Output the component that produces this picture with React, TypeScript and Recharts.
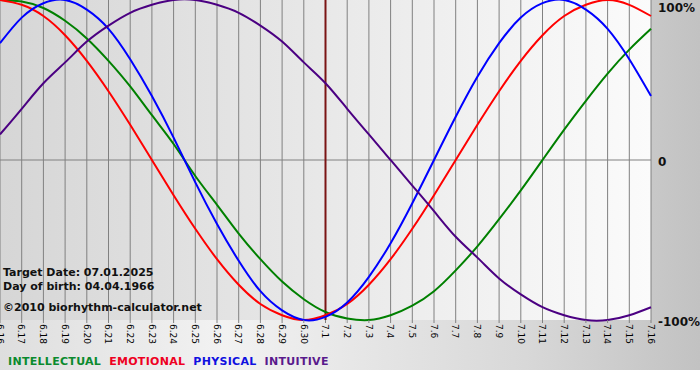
import { LineChart, Line, XAxis, YAxis, CartesianGrid, ReferenceLine } from 'recharts';

const days = [
  '6.16', '6.17', '6.18', '6.19', '6.20', '6.21', '6.22', '6.23', '6.24', '6.25', '6.26',
  '6.27', '6.28', '6.29', '6.30', '7.1', '7.2', '7.3', '7.4', '7.5', '7.6', '7.7', '7.8',
  '7.9', '7.10', '7.11', '7.12', '7.13', '7.14', '7.15', '7.16',
];

// values in percent per day
const intellectual = [100, 99, 95, 87, 76, 62, 46, 28, 10, -10, -28, -46, -62, -76, -87, -95, -99, -100, -97, -91, -82, -69, -54, -37, -19, 0, 19, 37, 54, 69, 82];
const emotional = [100, 97, 90, 78, 62, 43, 22, 0, -22, -43, -62, -78, -90, -97, -100, -97, -90, -78, -62, -43, -22, 0, 22, 43, 62, 78, 90, 97, 100, 97, 90];
const physical = [73, 89, 98, 100, 94, 82, 63, 40, 14, -14, -40, -63, -82, -94, -100, -98, -89, -73, -52, -27, 0, 27, 52, 73, 89, 98, 100, 94, 82, 63, 40];
const intuitive = [16, 32, 48, 61, 74, 84, 92, 97, 100, 100, 97, 92, 84, 74, 61, 48, 32, 16, 0, -16, -32, -48, -61, -74, -84, -92, -97, -100, -100, -97, -92];

const targetDay = '7.1';
const yTicks = [-100, 0, 100];

const series = [
  { key: 'intellectual', name: 'INTELLECTUAL', color: '#008000', label: '#0b8a2e', values: intellectual },
  { key: 'emotional', name: 'EMOTIONAL', color: '#ff0000', label: '#ee0022', values: emotional },
  { key: 'physical', name: 'PHYSICAL', color: '#0000ff', label: '#1010e0', values: physical },
  { key: 'intuitive', name: 'INTUITIVE', color: '#4b0082', label: '#5a1a8c', values: intuitive },
];

const data = days.map((d, i) => {
  const row: Record<string, number | string> = { idx: i, day: d };
  series.forEach((s) => { row[s.key] = s.values[i]; });
  return row;
});

const font = '"DejaVu Sans", Verdana, sans-serif';

const DayTick = ({ x, y, payload }: any) => (
  <text
    x={x}
    y={y}
    transform={`rotate(90, ${x}, ${y})`}
    textAnchor="start"
    dy="0.36em"
    fontSize={9}
    fontFamily={font}
    fill="#000"
  >
    {days[payload.value]}
  </text>
);

const PctTick = ({ x, y, payload }: any) => (
  <text x={x} y={payload.value === 100 ? 12 : y + 6} fontSize={12} fontWeight={700} fontFamily={font} fill="#111">
    {payload.value === 0 ? '0' : `${payload.value}%`}
  </text>
);

const infoStyle = { position: 'absolute' as const, left: 3, fontSize: 11, fontWeight: 700, fontFamily: font, color: '#111', lineHeight: '13px' };

export default function App() {
  return (
    <div style={{ position: 'absolute', left: 0, top: 0, width: 700, height: 380, background: '#fff' }}>
      <div
        style={{
          position: 'absolute', left: 0, top: 0, width: 700, height: 370,
          background: 'linear-gradient(to right, #dedede 0%, #f2f2f2 32%, #d8d8d8 75%, #c2c2c2 100%)',
        }}
      />
      <div style={{ position: 'absolute', left: 0, top: 0 }}>
        <LineChart width={700} height={370} data={data} margin={{ top: 0, right: 0, left: 0, bottom: 0 }}>
          <defs>
            <linearGradient id="plotBg" x1="0" y1="0" x2="1" y2="0">
              <stop offset="0%" stopColor="#d6d6d6" />
              <stop offset="100%" stopColor="#fbfbfb" />
            </linearGradient>
          </defs>
          <CartesianGrid horizontal={false} stroke="#808080" fill="url(#plotBg)" fillOpacity={1} />
          <XAxis
            dataKey="idx"
            type="number"
            domain={[0, 30]}
            ticks={days.map((_, i) => i)}
            interval={0}
            height={50}
            axisLine={false}
            tickLine={{ stroke: '#808080' }}
            tickSize={3}
            tickMargin={1}
            tick={<DayTick />}
          />
          <YAxis
            orientation="right"
            width={49}
            domain={[-100, 100]}
            ticks={yTicks}
            axisLine={false}
            tickLine={false}
            tickSize={0}
            tickMargin={7}
            tick={<PctTick />}
          />
          <ReferenceLine y={0} stroke="#808080" />
          <ReferenceLine x={days.indexOf(targetDay)} stroke="#7a1414" strokeWidth={2} />
          {series.map((s) => (
            <Line
              key={s.key}
              type="natural"
              dataKey={s.key}
              stroke={s.color}
              strokeWidth={2}
              dot={false}
              activeDot={false}
              isAnimationActive={false}
            />
          ))}
        </LineChart>
      </div>
      <div style={{ ...infoStyle, top: 266 }}>Target Date: 07.01.2025</div>
      <div style={{ ...infoStyle, top: 280 }}>Day of birth: 04.04.1966</div>
      <div style={{ ...infoStyle, top: 301 }}>©2010 biorhythm-calculator.net</div>
      <div style={{ position: 'absolute', left: 8, top: 355, display: 'flex', gap: 8, fontSize: 11, fontWeight: 700, fontFamily: font, lineHeight: '13px', letterSpacing: 0.3 }}>
        {series.map((s) => (
          <span key={s.key} style={{ color: s.label }}>{s.name}</span>
        ))}
      </div>
    </div>
  );
}
